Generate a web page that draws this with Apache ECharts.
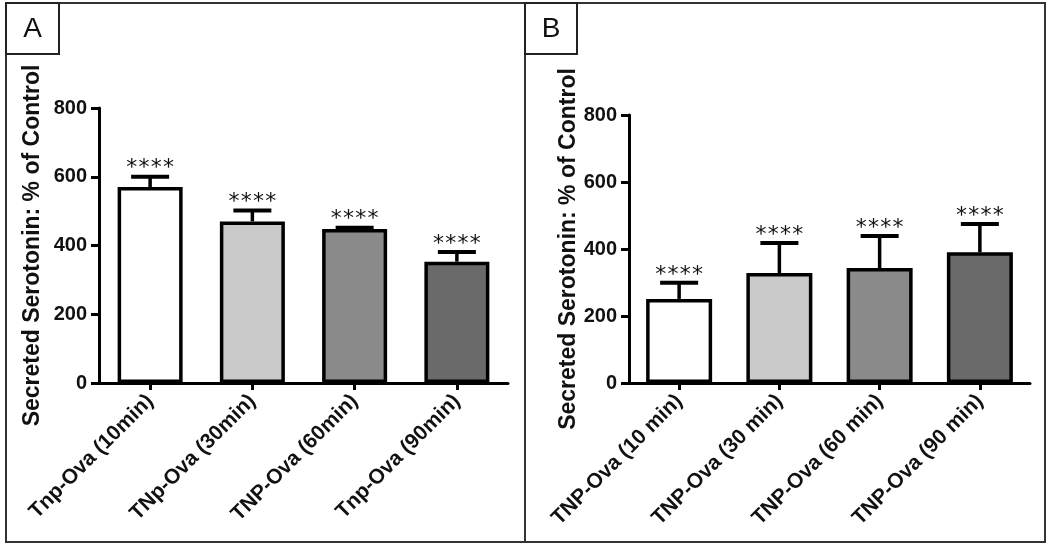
<!DOCTYPE html>
<html>
<head>
<meta charset="utf-8">
<script src="https://cdn.jsdelivr.net/npm/echarts@6/dist/echarts.min.js"></script>
<style>
html,body{margin:0;padding:0;background:#fff;}
#chart{width:1050px;height:548px;}
</style>
</head>
<body>
<div id="chart"></div>
<script>
// ---- Data ----
const categoriesA = ['Tnp-Ova (10min)', 'TNp-Ova (30min)', 'TNP-Ova (60min)', 'Tnp-Ova (90min)'];
const categoriesB = ['TNP-Ova (10 min)', 'TNP-Ova (30 min)', 'TNP-Ova (60 min)', 'TNP-Ova (90 min)'];
const valuesA = [570, 470, 448, 353];
const errorsA = [30, 32, 4, 28];
const valuesB = [251, 328, 343, 390];
const errorsB = [48, 90, 96, 85];
const starsA = ['****', '****', '****', '****'];
const starsB = ['****', '****', '****', '****'];
const yTicks = [0, 200, 400, 600, 800];
const barColors = ['#ffffff', '#cacaca', '#8a8a8a', '#6a6a6a'];
const yTitle = 'Secreted Serotonin: % of Control';
const panelLabels = ['A', 'B'];

const FONT = '"Liberation Sans", Arial, Helvetica, sans-serif';

function barData(vals) {
  return vals.map((v, i) => ({ value: v, itemStyle: { color: barColors[i] } }));
}
function errData(vals, errs, stars) {
  return vals.map((v, i) => [i, v, errs[i], stars[i]]);
}
function errRender(params, api) {
  const idx = api.value(0), v = api.value(1), e = api.value(2);
  const base = api.coord([idx, v]);
  const top = api.coord([idx, v + e]);
  const capHalf = 19;
  const chars = String(api.value(3)).split('');
  const step = 12.2;
  const children = [
    { type: 'line', shape: { x1: base[0], y1: base[1], x2: top[0], y2: top[1] },
      style: { stroke: '#000', lineWidth: 3.5 } },
    { type: 'line', shape: { x1: top[0] - capHalf, y1: top[1], x2: top[0] + capHalf, y2: top[1] },
      style: { stroke: '#000', lineWidth: 4 } }
  ];
  chars.forEach((c, k) => {
    children.push({ type: 'text', x: top[0] + (k - (chars.length - 1) / 2) * step, y: top[1] - 8,
      style: { text: c, fill: '#111', font: 'normal 22px "DejaVu Sans", sans-serif',
               align: 'center', verticalAlign: 'middle' } });
  });
  return { type: 'group', children: children };
}

function makeY(gridIndex, gap) {
  return {
    type: 'value', gridIndex: gridIndex, min: yTicks[0], max: yTicks[yTicks.length - 1], interval: 200,
    name: yTitle, nameLocation: 'middle', nameRotate: 90, nameGap: gap,
    nameTextStyle: { fontFamily: FONT, fontWeight: 'bold', fontSize: 23, color: '#111' },
    axisLine: { show: true, lineStyle: { color: '#000', width: 3 } },
    axisTick: { show: true, length: 8, lineStyle: { color: '#000', width: 3 } },
    axisLabel: { fontFamily: FONT, fontWeight: 'bold', fontSize: 20, color: '#111', margin: 12 },
    splitLine: { show: false }
  };
}
function makeX(gridIndex, cats) {
  return {
    type: 'category', gridIndex: gridIndex, data: cats,
    axisLine: { show: true, lineStyle: { color: '#000', width: 3 } },
    axisTick: { show: true, alignWithLabel: true, length: 7, lineStyle: { color: '#000', width: 3 } },
    axisLabel: { fontFamily: FONT, fontWeight: 'bold', fontSize: 21, color: '#111', rotate: 45, margin: 15, interval: 0 }
  };
}

const chart = echarts.init(document.getElementById('chart'), null, { renderer: 'canvas' });
chart.setOption({
  backgroundColor: '#fff',
  animation: false,
  grid: [
    { left: 99, top: 108, width: 409, height: 275 },
    { left: 629, top: 115, width: 401, height: 268 }
  ],
  xAxis: [makeX(0, categoriesA), makeX(1, categoriesB)],
  yAxis: [makeY(0, 55), makeY(1, 49)],
  series: [
    { type: 'bar', xAxisIndex: 0, yAxisIndex: 0, data: barData(valuesA), barWidth: 65,
      itemStyle: { borderColor: '#000', borderWidth: 3.5 }, z: 2 },
    { type: 'custom', xAxisIndex: 0, yAxisIndex: 0, data: errData(valuesA, errorsA, starsA),
      renderItem: errRender, z: 3 },
    { type: 'bar', xAxisIndex: 1, yAxisIndex: 1, data: barData(valuesB), barWidth: 66,
      itemStyle: { borderColor: '#000', borderWidth: 3.5 }, z: 2 },
    { type: 'custom', xAxisIndex: 1, yAxisIndex: 1, data: errData(valuesB, errorsB, starsB),
      renderItem: errRender, z: 3 }
  ],
  graphic: [
    { type: 'rect', shape: { x: 6, y: 3, width: 1039, height: 539 },
      style: { fill: 'none', stroke: '#333', lineWidth: 2 }, z: 0 },
    { type: 'line', shape: { x1: 525, y1: 3, x2: 525, y2: 542 },
      style: { stroke: '#333', lineWidth: 2 } },
    { type: 'rect', shape: { x: 6, y: 3, width: 53, height: 51 },
      style: { fill: '#fff', stroke: '#222', lineWidth: 2 } },
    { type: 'rect', shape: { x: 525, y: 3, width: 52, height: 51 },
      style: { fill: '#fff', stroke: '#222', lineWidth: 2 } },
    { type: 'text', x: 32.5, y: 29, style: { text: panelLabels[0], font: 'normal 28px ' + FONT,
      fill: '#111', align: 'center', verticalAlign: 'middle' } },
    { type: 'text', x: 551, y: 29, style: { text: panelLabels[1], font: 'normal 28px ' + FONT,
      fill: '#111', align: 'center', verticalAlign: 'middle' } }
  ]
});
</script>
</body>
</html>
